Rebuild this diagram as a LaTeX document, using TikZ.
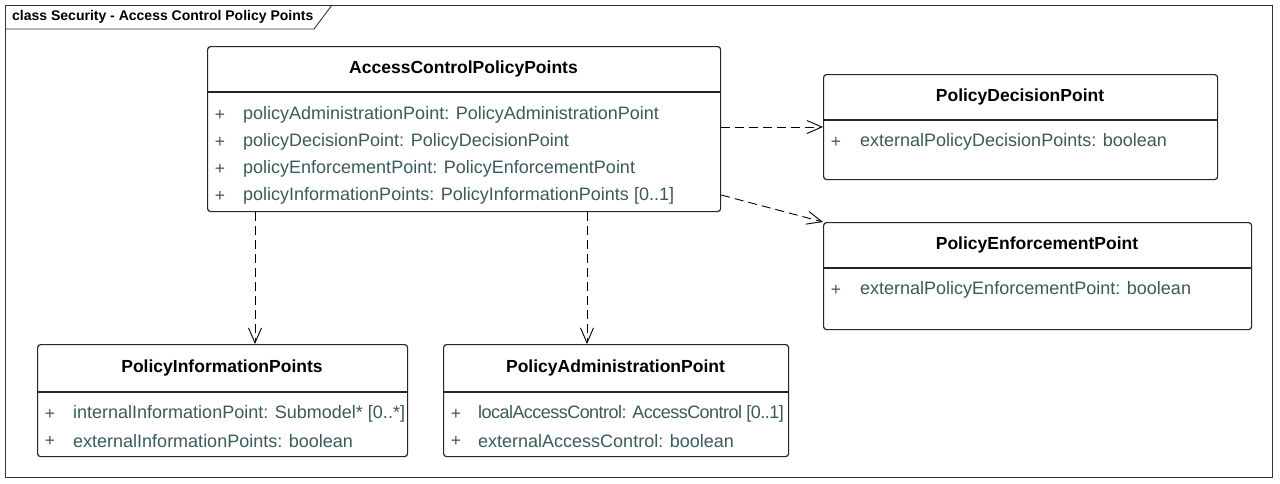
\documentclass[tikz,border=0pt]{standalone}
\usepackage{fontspec}
\setmainfont{Liberation Sans}
\usetikzlibrary{arrows.meta}
\definecolor{attr}{HTML}{3B5A5A}
\tikzset{
  cls/.style={draw=black!85, line width=1.2pt, rounded corners=3pt, fill=white, anchor=north west, inner sep=0pt},
  divider/.style={draw=black!85, line width=1.2pt},
  ttl/.style={font=\fontsize{17.5}{20}\selectfont\bfseries, anchor=center, inner sep=0pt},
  att/.style={font=\fontsize{18}{20}\selectfont, text=attr, anchor=west, inner sep=0pt},
  plus/.style={font=\fontsize{17.5}{20}\selectfont, text=attr, anchor=center, inner sep=0pt},
  dep/.style={draw=black, line width=0.9pt, dash pattern=on 9pt off 5pt, -{Straight Barb[length=15pt,width=13pt,line width=0.9pt]}},
}
\begin{document}
\begin{tikzpicture}[x=1pt,y=-1pt]
\useasboundingbox (0,0) rectangle (1280,483);
% frame
\draw[line width=0.9pt, draw=black!80] (5,5) rectangle (1272,477);
\draw[line width=0.9pt, draw=black!80] (5,29) -- (314,29) -- (332,5);
\node[font=\fontsize{14}{16}\selectfont\bfseries, anchor=west, inner sep=0pt] (frametitle) at (12,16.5) {class Security - Access Control Policy Points};

% AccessControlPolicyPoints
\node[cls, minimum width=513pt, minimum height=165pt] (acpp) at (207,46) {};
\draw[divider] (207,92) -- (720,92);
\node[ttl] (acppt) at (463.5,69) {AccessControlPolicyPoints};
\foreach \y/\t [count=\i] in {115/{policyAdministrationPoint: PolicyAdministrationPoint},142/{policyDecisionPoint: PolicyDecisionPoint},169/{policyEnforcementPoint: PolicyEnforcementPoint},196/{policyInformationPoints: PolicyInformationPoints [0..1]}}{
  \node[plus] (acppp\i) at (220,\y) {+};
  \node[att] (acppa\i) at (243,\y) {\t};
}

% PolicyDecisionPoint
\node[cls, minimum width=394pt, minimum height=105pt] (pdp) at (823,74) {};
\draw[divider] (823,120) -- (1217,120);
\node[ttl] (pdpt) at (1020,97) {PolicyDecisionPoint};
\node[plus] (pdpp1) at (836,142) {+};
\node[att] (pdpa1) at (860,142) {externalPolicyDecisionPoints: boolean};

% PolicyEnforcementPoint
\node[cls, minimum width=428pt, minimum height=107pt] (pep) at (823,222) {};
\draw[divider] (823,268) -- (1251,268);
\node[ttl] (pept) at (1037,245) {PolicyEnforcementPoint};
\node[plus] (pepp1) at (836,290) {+};
\node[att] (pepa1) at (860,290) {externalPolicyEnforcementPoint: boolean};

% PolicyInformationPoints
\node[cls, minimum width=370pt, minimum height=112pt] (pip) at (37,344) {};
\draw[divider] (37,392) -- (407,392);
\node[ttl] (pipt) at (222,368) {PolicyInformationPoints};
\node[plus] (pipp1) at (50,414) {+};
\node[att] (pipa1) at (73,414) {internalInformationPoint: Submodel* [0..*]};
\node[plus] (pipp2) at (50,441) {+};
\node[att] (pipa2) at (73,441) {externalInformationPoints: boolean};

% PolicyAdministrationPoint
\node[cls, minimum width=345pt, minimum height=112pt] (pap) at (443,344) {};
\draw[divider] (443,392) -- (788,392);
\node[ttl] (papt) at (615.5,368) {PolicyAdministrationPoint};
\node[plus] (papp1) at (456,414) {+};
\node[att] (papa1) at (478,414) {\addfontfeature{LetterSpace=-3}localAccessControl: AccessControl [0..1]};
\node[plus] (papp2) at (456,441) {+};
\node[att] (papa2) at (478,441) {externalAccessControl: boolean};

% dependencies
\coordinate (s1) at (acpp.south west -| 255,0);
\coordinate (s2) at (acpp.south west -| 587,0);
\coordinate (s3) at (acpp.east |- 0,127);
\coordinate (s4) at (acpp.east |- 0,195);
\draw[dep] (s1) -- (s1 |- pip.north);
\draw[dep] (s2) -- (s2 |- pap.north);
\draw[dep] (s3) -- (pdp.west |- s3);
\draw[dep] (s4) -- (pep.north west);
\end{tikzpicture}
\end{document}
